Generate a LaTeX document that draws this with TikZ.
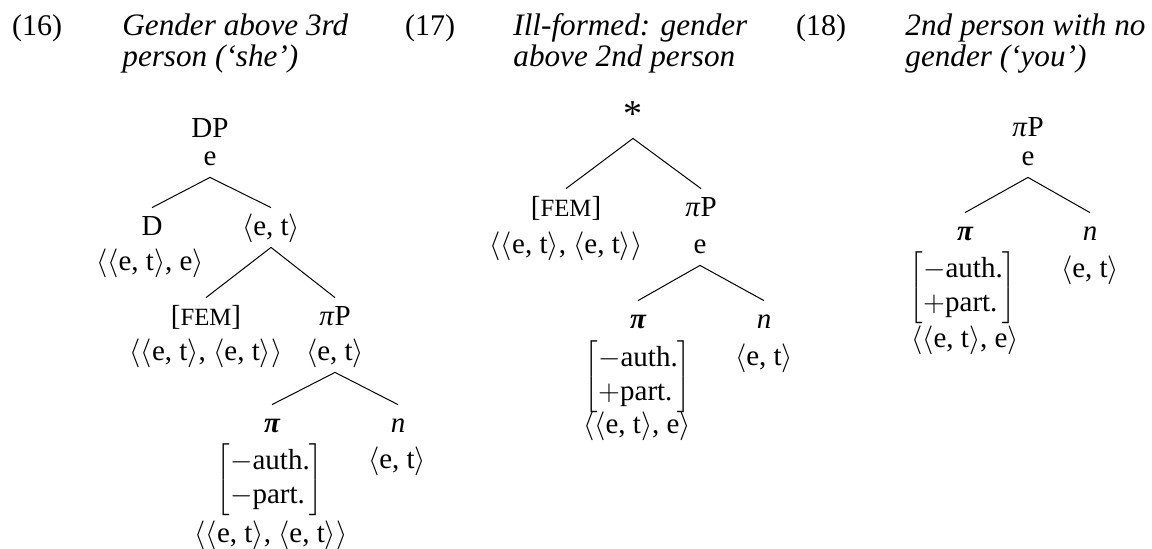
\documentclass[tikz,border=0pt]{standalone}
\usepackage{fontspec}
\setmainfont{Liberation Serif}

\newcommand{\ty}[1]{$\langle$#1$\rangle$}
\newcommand{\femlbl}{[{\fontsize{12.4pt}{12pt}\selectfont FEM}]}
\newcommand{\feats}[2]{$\left[\mbox{\begin{tabular}{@{}l@{}}#1\\#2\end{tabular}}\right]$}
\newcommand{\pihead}{{\bfseries\itshape π}}

\tikzset{
  every node/.style={font=\fontsize{14.5pt}{17pt}\selectfont},
  num/.style={anchor=base, inner sep=0pt, font=\fontsize{15pt}{17pt}\selectfont},
  ttl/.style={anchor=base west, inner sep=0pt, align=left,
    font=\fontsize{15.6pt}{15.5pt}\selectfont\itshape},
  cat/.style={anchor=base, inner sep=0pt, text height=13.5pt},
  typ/.style={anchor=base, inner sep=0pt, text depth=6pt},
  branch/.style={line width=0.5pt}
}

\begin{document}
\begin{tikzpicture}[x=0.5pt,y=-0.5pt]
  \useasboundingbox (0,0) rectangle (1152,548);

  % Arbre (16)
  \node[num] (num16) at (37,35) {(16)};
  \node[ttl] (ttl16) at (122,66) {Gender above 3rd\\person (`she')};
  \node[cat] (DP16) at (210,137) {DP};
  \node[typ] (e16) at (210,165) {e};
  \node[cat] (D16) at (152,235) {D};
  \node[typ] (Dty16) at (150,270) {\ty{\ty{e, t}, e}};
  \node[cat,typ] (et16) at (271,235) {\ty{e, t}};
  \node[cat] (fem16) at (206,325) {\femlbl};
  \node[typ] (femty16) at (206,360) {\ty{\ty{e, t}, \ty{e, t}}};
  \node[cat] (piP16) at (335,325) {\textit{π}P};
  \node[typ] (piPty16) at (335,360) {\ty{e, t}};
  \node[cat] (pi16) at (272,432) {\pihead};
  \node[inner sep=0pt] (ft16) at (270,480) {\feats{$-$auth.}{$-$part.}};
  \node[typ] (pity16) at (271,542) {\ty{\ty{e, t}, \ty{e, t}}};
  \node[cat] (n16) at (398,432) {\textit{n}};
  \node[typ] (nty16) at (397,468) {\ty{e, t}};
  \draw[branch] (e16.south) -- (D16.north);
  \draw[branch] (e16.south) -- (et16.north);
  \draw[branch] (et16.south) -- (fem16.north);
  \draw[branch] (et16.south) -- (piP16.north);
  \draw[branch] (piPty16.south) -- (pi16.north);
  \draw[branch] (piPty16.south) -- (n16.north);

  % Arbre (17)
  \node[num] (num17) at (430,35) {(17)};
  \node[ttl] (ttl17) at (513,66) {Ill-formed: gender\\above 2nd person};
  \node[typ,font=\fontsize{19pt}{19pt}\selectfont] (star17) at (633,126) {*};
  \node[cat] (fem17) at (566,216) {\femlbl};
  \node[typ] (femty17) at (566,253) {\ty{\ty{e, t}, \ty{e, t}}};
  \node[cat] (piP17) at (701,216) {\textit{π}P};
  \node[typ] (e17) at (700,253) {e};
  \node[cat] (pi17) at (638,328) {\pihead};
  \node[inner sep=0pt] (ft17) at (638,377) {\feats{$-$auth.}{$+$part.}};
  \node[typ] (pity17) at (637,433) {\ty{\ty{e, t}, e}};
  \node[cat] (n17) at (764,328) {\textit{n}};
  \node[typ] (nty17) at (764,365) {\ty{e, t}};
  \draw[branch] (star17.south) -- (fem17.north);
  \draw[branch] (star17.south) -- (piP17.north);
  \draw[branch] (e17.south) -- (pi17.north);
  \draw[branch] (e17.south) -- (n17.north);

  % Arbre (18)
  \node[num] (num18) at (821,35) {(18)};
  \node[ttl] (ttl18) at (905,66) {2nd person with no\\gender (`you')};
  \node[cat] (piP18) at (1028,136) {\textit{π}P};
  \node[typ] (e18) at (1028,165) {e};
  \node[cat] (pi18) at (965,240) {\pihead};
  \node[inner sep=0pt] (ft18) at (963,288) {\feats{$-$auth.}{$+$part.}};
  \node[typ] (pity18) at (965,347) {\ty{\ty{e, t}, e}};
  \node[cat] (n18) at (1090,240) {\textit{n}};
  \node[typ] (nty18) at (1090,277) {\ty{e, t}};
  \draw[branch] (e18.south) -- (pi18.north);
  \draw[branch] (e18.south) -- (n18.north);
\end{tikzpicture}
\end{document}
